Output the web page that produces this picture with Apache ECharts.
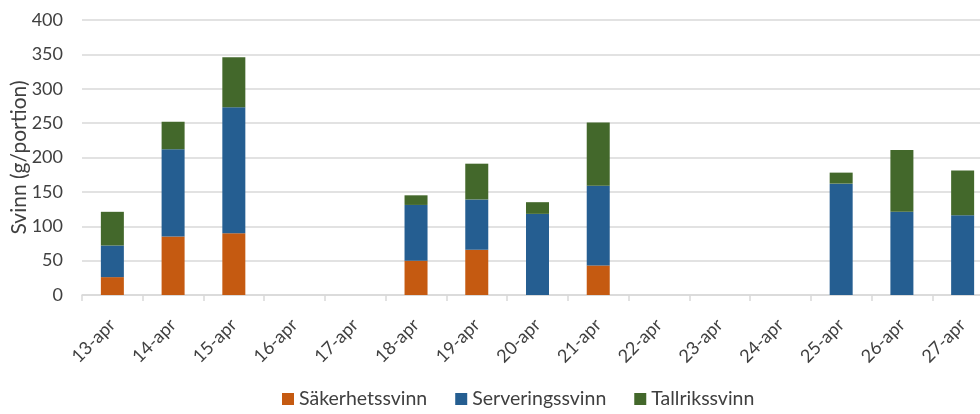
<!DOCTYPE html>
<html>
<head>
<meta charset="utf-8">
<script src="https://cdn.jsdelivr.net/npm/echarts@6/dist/echarts.min.js"></script>
<style>
  html, body { margin: 0; padding: 0; background: #fff; }
  #chart { width: 980px; height: 414px; }
</style>
</head>
<body>
<div id="chart"></div>
<script>
// dagar
const days = ['13-apr', '14-apr', '15-apr', '16-apr', '17-apr', '18-apr', '19-apr', '20-apr',
  '21-apr', '22-apr', '23-apr', '24-apr', '25-apr', '26-apr', '27-apr']
// svinn per typ (g/portion)
const sakerhet = [26, 85, 90, 0, 0, 50, 66, 0, 43, 0, 0, 0, 0, 0, 0]
const servering = [46, 127, 183, 0, 0, 81, 73, 118, 116, 0, 0, 0, 162, 121, 116]
const tallrik = [49, 40, 73, 0, 0, 14, 52, 17, 92, 0, 0, 0, 16, 90, 65]
const yTicks = [0, 50, 100, 150, 200, 250, 300, 350, 400]

const font = 'Lato, "Open Sans", sans-serif'
const chart = echarts.init(document.getElementById('chart'))

function bar(name, data, color) {
  return {
    name: name,
    type: 'bar',
    stack: 'svinn',
    barWidth: 23,
    itemStyle: { color: color },
    emphasis: { disabled: true },
    data: data
  }
}

chart.setOption({
  animation: false,
  textStyle: { fontFamily: font },
  // diagrammet är beskuret till höger, rutnätet fortsätter utanför
  grid: { left: 82, top: 20, width: 911, height: 275, outerBoundsMode: 'none', containLabel: false },
  legend: {
    bottom: 0,
    left: 277,
    itemWidth: 12,
    itemHeight: 12,
    itemGap: 28,
    icon: 'rect',
    textStyle: { fontSize: 19.5, color: '#404040', fontFamily: font },
    data: ['Säkerhetssvinn', 'Serveringssvinn', 'Tallrikssvinn']
  },
  xAxis: {
    type: 'category',
    data: days,
    axisLine: { lineStyle: { color: '#d9d9d9', width: 1.5 } },
    axisTick: { show: true, length: 6, lineStyle: { color: '#d9d9d9', width: 1.5 } },
    axisLabel: { rotate: 45, fontSize: 18, color: '#404040', margin: 27, interval: 0 }
  },
  yAxis: {
    type: 'value',
    min: yTicks[0],
    max: yTicks[yTicks.length - 1],
    interval: 50,
    name: 'Svinn (g/portion)',
    nameLocation: 'middle',
    nameGap: 52,
    nameMoveOverlap: false,
    nameTextStyle: { fontSize: 21, color: '#404040', fontFamily: font },
    axisLine: { show: false },
    axisTick: { show: false },
    splitLine: { lineStyle: { color: '#d9d9d9', width: 1.5 } },
    axisLabel: { fontSize: 18, color: '#404040', margin: 19 }
  },
  series: [
    bar('Säkerhetssvinn', sakerhet, '#c55a11'),
    bar('Serveringssvinn', servering, '#255e91'),
    bar('Tallrikssvinn', tallrik, '#43682b')
  ]
})
</script>
</body>
</html>
